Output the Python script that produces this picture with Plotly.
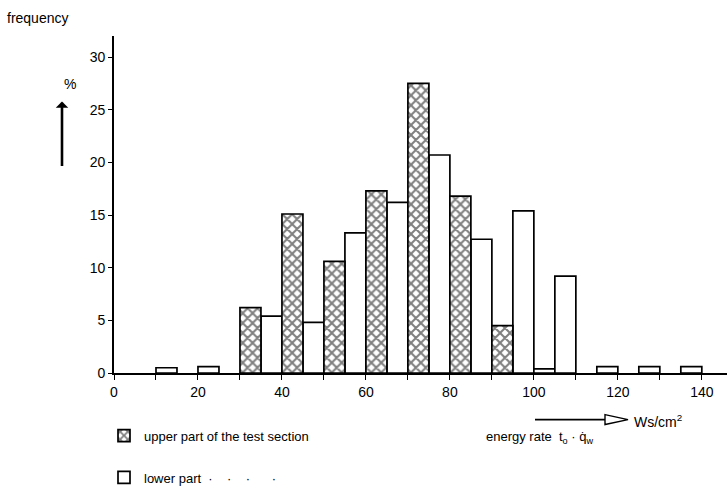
import plotly.graph_objects as go

# Frequency distribution of the energy rate, 5 Ws/cm^2 classes
upper_left = [30, 40, 50, 60, 70, 80, 90]
upper_pct = [6.2, 15.1, 10.6, 17.3, 27.5, 16.8, 4.5]

lower_left = [10, 20, 35, 45, 55, 65, 75, 85, 95, 100, 105, 115, 125, 135]
lower_pct = [0.5, 0.6, 5.4, 4.8, 13.3, 16.2, 20.7, 12.7, 15.4, 0.4, 9.2, 0.6, 0.6, 0.6]

bin_width = 5
x_tick_vals = list(range(0, 150, 10))
x_tick_text = [str(v) if v % 20 == 0 else "" for v in x_tick_vals]
y_tick_vals = [0, 5, 10, 15, 20, 25, 30]

FONT = "Liberation Sans, Arial, sans-serif"

W, H = 727, 493
ML, MR, MT, MB = 114, 0, 36, 117
PW, PH = W - ML - MR, H - MT - MB


def px(x):
    return (x - ML) / PW


def py(y):
    return (H - MB - y) / PH


fig = go.Figure()

fig.add_trace(go.Bar(
    x=[v + bin_width / 2 for v in lower_left], y=lower_pct, width=bin_width,
    marker=dict(color="white", line=dict(color="black", width=1.7)),
    name="lower part  ·    ·    ·      ·", legendgroup="b", legendrank=2,
))
fig.add_trace(go.Bar(
    x=[v + bin_width / 2 for v in upper_left], y=upper_pct, width=bin_width,
    marker=dict(color="white", line=dict(color="black", width=1.7),
                pattern=dict(shape="x", fgcolor="black", bgcolor="white",
                             size=7, solidity=0.5)),
    name="upper part of the test section", legendgroup="a", legendrank=1,
))

fig.update_layout(
    width=W, height=H,
    margin=dict(l=ML, r=MR, t=MT, b=MB),
    paper_bgcolor="white", plot_bgcolor="white",
    barmode="overlay",
    font=dict(family=FONT, size=14, color="black"),
    showlegend=True,
    legend=dict(
        x=px(104), y=py(424), xanchor="left", yanchor="top",
        bgcolor="rgba(0,0,0,0)", font=dict(size=13, family=FONT),
        tracegroupgap=22, traceorder="grouped", itemwidth=30,
    ),
    xaxis=dict(
        range=[0, 146], showgrid=False, zeroline=False,
        showline=True, linecolor="black", linewidth=1.7,
        tickmode="array", tickvals=x_tick_vals, ticktext=x_tick_text,
        ticks="outside", ticklen=5, tickcolor="black", tickwidth=1.4,
        tickfont=dict(size=14),
    ),
    yaxis=dict(
        range=[0, 32], showgrid=False, zeroline=False,
        showline=True, linecolor="black", linewidth=1.9,
        tickvals=y_tick_vals, ticks="outside", ticklen=4,
        tickcolor="black", tickwidth=1.4, tickfont=dict(size=14),
    ),
)

# Axis captions
fig.add_annotation(x=px(5), y=py(18), xref="paper", yref="paper",
                   text="frequency", showarrow=False, xanchor="left",
                   yanchor="middle", font=dict(size=14))
fig.add_annotation(x=px(62), y=py(84), xref="paper", yref="paper",
                   text="%", showarrow=False, yanchor="middle",
                   font=dict(size=14))
fig.add_annotation(x=px(62), y=py(102), xref="paper", yref="paper",
                   ax=0, ay=66, axref="pixel", ayref="pixel",
                   text="", showarrow=True, arrowhead=1, arrowsize=0.8,
                   arrowwidth=2.6, arrowcolor="black")

# Open-headed arrow before the unit
fig.add_shape(type="line", xref="paper", yref="paper",
              x0=px(535), y0=py(423), x1=px(605), y1=py(423),
              line=dict(color="black", width=1.7))
fig.add_shape(type="path", xref="paper", yref="paper",
              path=f"M {px(605)},{py(418)} L {px(628)},{py(423)} L {px(605)},{py(428)} Z",
              line=dict(color="black", width=1.4), fillcolor="white")
fig.add_annotation(x=px(632), y=py(424), xref="paper", yref="paper",
                   text="Ws/cm<sup>2</sup>", showarrow=False, xanchor="left",
                   yanchor="middle", font=dict(size=14))
fig.add_annotation(x=px(484), y=py(441), xref="paper", yref="paper",
                   text="energy rate  t<sub>o</sub> · q̇<sub>w</sub>",
                   showarrow=False, xanchor="left", yanchor="middle",
                   font=dict(size=13))

fig.write_html("out.html")
